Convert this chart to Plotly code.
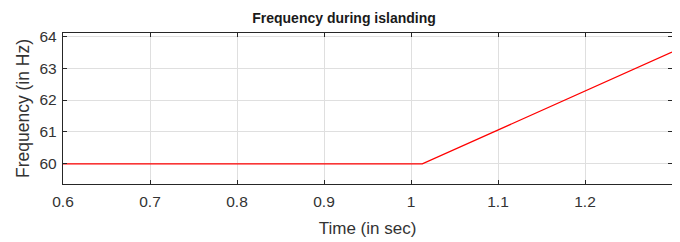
import plotly.graph_objects as go

time_s = [0.6, 1.013, 1.3]
freq_hz = [60.0, 60.0, 63.5]
x_ticks = [0.6, 0.7, 0.8, 0.9, 1.0, 1.1, 1.2]
x_tick_labels = ["0.6", "0.7", "0.8", "0.9", "1", "1.1", "1.2"]
y_ticks = [60, 61, 62, 63, 64]
y_tick_labels = ["60", "61", "62", "63", "64"]

FONT = "Liberation Sans, Arial, Helvetica"

fig = go.Figure()
fig.add_trace(go.Scatter(x=time_s, y=freq_hz, mode="lines",
                         line=dict(color="#ff0000", width=1.3), showlegend=False))

axis_common = dict(showline=True, linecolor="#262626", linewidth=1.3, mirror="ticks",
                   ticks="inside", ticklen=4, tickwidth=1, tickcolor="#262626",
                   showgrid=True, gridcolor="#dfdfdf", gridwidth=1, zeroline=False,
                   automargin=False,
                   tickfont=dict(family=FONT, size=15.5, color="#333333"))

fig.update_layout(
    width=672, height=234,
    margin=dict(l=55, r=8, t=25, b=58),
    paper_bgcolor="white", plot_bgcolor="white",
    title=dict(text="<b>Frequency during islanding</b>", x=0.5, xanchor="center",
               y=1, yanchor="top", pad=dict(t=5),
               font=dict(family=FONT, size=14, color="#1a1a1a")),
    xaxis=dict(range=[0.6, 1.3], tickvals=x_ticks, ticktext=x_tick_labels,
               ticklabelstandoff=3,
               title=dict(text="Time (in sec)", standoff=13,
                          font=dict(family=FONT, size=17, color="#333333")),
               **axis_common),
    yaxis=dict(range=[59.37, 64.1], tickvals=y_ticks, ticktext=y_tick_labels,
               ticklabelstandoff=2,
               title=dict(text="Frequency (in Hz)", standoff=5,
                          font=dict(family=FONT, size=17.5, color="#333333")),
               **axis_common),
)

fig.write_html("out.html")
